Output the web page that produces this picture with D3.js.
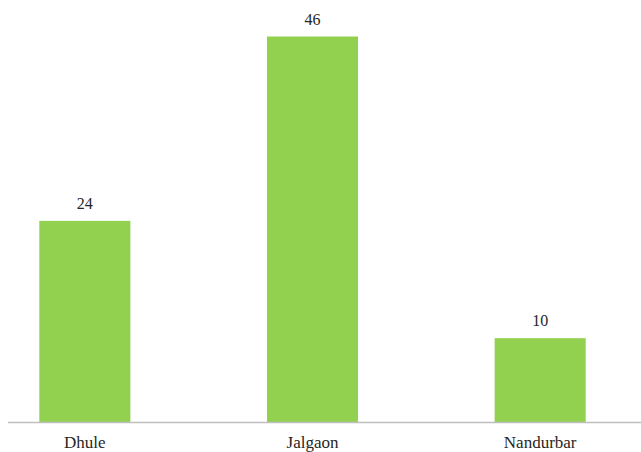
<!DOCTYPE html>
<html>
<head>
<meta charset="utf-8">
<script src="https://cdn.jsdelivr.net/npm/d3@7"></script>
<style>
  body { margin: 0; background: #fff; }
</style>
</head>
<body>
<script>
// district names and counts
var districts = ["Dhule", "Jalgaon", "Nandurbar"];
var counts = [24, 46, 10];

var width = 641,
    height = 452;

var svg = d3.select("body")
    .append("svg")
    .attr("width", width)
    .attr("height", height);

var baseline = 422;
var serif = "'Liberation Serif'";

//x scale, range runs a bit past the frame so bars sit where the original has them
var x = d3.scaleBand()
    .domain(districts)
    .range([-29, 654])
    .paddingInner(0.6)
    .paddingOuter(0.3);

var y = d3.scaleLinear()
    .domain([0, 50])
    .range([baseline, baseline - 50 * 8.38]);

var data = districts.map(function(d, i) {
    return { name: d, value: counts[i] };
});

svg.selectAll(".bar")
    .data(data)
    .enter()
    .append("rect")
    .attr("class", "bar")
    .attr("x", function(d) { return x(d.name); })
    .attr("width", x.bandwidth())
    .attr("y", function(d) { return y(d.value); })
    .attr("height", function(d) { return baseline - y(d.value); })
    .attr("fill", "#92d050");

//value labels above bars
svg.selectAll(".val")
    .data(data)
    .enter()
    .append("text")
    .attr("class", "val")
    .attr("x", function(d) { return x(d.name) + x.bandwidth() / 2; })
    .attr("y", function(d) { return y(d.value) - 12; })
    .attr("text-anchor", "middle")
    .style("font-family", serif)
    .style("font-size", "16px")
    .style("fill", "#262626")
    .text(function(d) { return d.value; });

//x axis: just the baseline and category names
var xAxis = svg.append("g")
    .attr("transform", "translate(0," + baseline + ")")
    .call(d3.axisBottom(x).tickSize(0));

xAxis.select(".domain").remove();
xAxis.append("line")
    .attr("x1", 8)
    .attr("x2", width)
    .attr("y1", 0.5)
    .attr("y2", 0.5)
    .attr("stroke", "#bfbfbf")
    .attr("stroke-width", 1.5);

xAxis.selectAll("text")
    .attr("y", 26)
    .attr("dy", null)
    .style("font-family", serif)
    .style("font-size", "17px")
    .style("fill", "#262626");
</script>
</body>
</html>
